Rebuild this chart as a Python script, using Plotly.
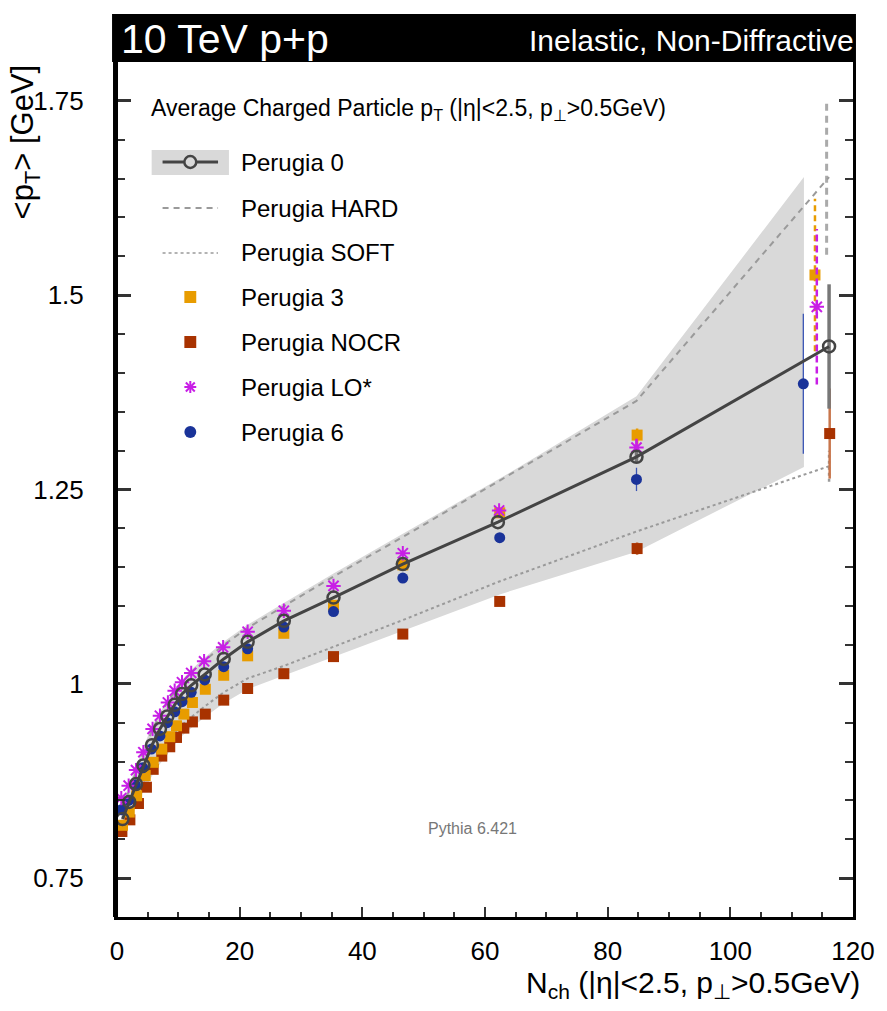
import plotly.graph_objects as go

# ---------------- data ----------------
# Perugia 0 (central tune)
nch_p0 = [0.9, 2.0, 3.1, 4.3, 5.7, 7.0, 8.2, 9.4, 10.6, 12.1, 14.3, 17.4, 21.3, 27.2, 35.3, 46.6, 62.1, 84.7, 116.1]
pt_p0 = [0.826, 0.848, 0.871, 0.895, 0.921, 0.942, 0.958, 0.973, 0.987, 0.998, 1.012, 1.032, 1.054, 1.081, 1.111, 1.154, 1.208, 1.292, 1.434]
err_p0 = [0, 0, 0, 0, 0, 0, 0, 0, 0, 0, 0, 0, 0, 0, 0, 0, 0, 0.008, 0.080]

# Perugia HARD / SOFT
pt_hard = [0.840, 0.864, 0.888, 0.912, 0.940, 0.960, 0.976, 0.990, 1.002, 1.015, 1.030, 1.050, 1.072, 1.100, 1.138, 1.189, 1.260, 1.364, 1.652]
err_hard = [0, 0, 0, 0, 0, 0, 0, 0, 0, 0, 0, 0, 0, 0, 0, 0, 0, 0, 0.100]
pt_soft = [0.815, 0.833, 0.852, 0.872, 0.893, 0.910, 0.924, 0.936, 0.947, 0.957, 0.971, 0.989, 1.007, 1.023, 1.048, 1.082, 1.131, 1.196, 1.280]
err_soft = [0, 0, 0, 0, 0, 0, 0, 0, 0, 0, 0, 0, 0, 0, 0, 0, 0, 0, 0.020]

# Perugia 3
nch_p3 = [0.9, 2.0, 3.2, 4.6, 5.9, 7.3, 8.6, 9.7, 10.9, 12.3, 14.4, 17.4, 21.3, 27.2, 35.3, 46.6, 62.4, 84.8, 113.8]
pt_p3 = [0.818, 0.835, 0.856, 0.882, 0.899, 0.916, 0.932, 0.946, 0.961, 0.976, 0.993, 1.011, 1.036, 1.065, 1.101, 1.153, 1.220, 1.320, 1.526]
err_p3 = [0, 0, 0, 0, 0, 0, 0, 0, 0, 0, 0, 0, 0, 0, 0, 0, 0, 0.012, 0.098]

# Perugia NOCR
nch_nocr = [0.8, 2.1, 3.5, 4.8, 5.9, 7.3, 8.6, 9.7, 10.9, 12.3, 14.4, 17.4, 21.3, 27.2, 35.3, 46.6, 62.4, 84.8, 116.2]
pt_nocr = [0.810, 0.825, 0.846, 0.867, 0.890, 0.907, 0.919, 0.931, 0.943, 0.951, 0.961, 0.979, 0.994, 1.013, 1.035, 1.064, 1.106, 1.174, 1.322]
err_nocr = [0, 0, 0, 0, 0, 0, 0, 0, 0, 0, 0, 0, 0, 0, 0, 0, 0, 0.008, 0.058]

# Perugia LO*
nch_lo = [0.7, 1.9, 3.1, 4.3, 5.8, 7.0, 8.3, 9.4, 10.6, 12.1, 14.2, 17.3, 21.3, 27.2, 35.3, 46.6, 62.3, 84.7, 114.1]
pt_lo = [0.853, 0.869, 0.889, 0.912, 0.942, 0.959, 0.976, 0.991, 1.002, 1.014, 1.029, 1.047, 1.067, 1.094, 1.126, 1.168, 1.223, 1.304, 1.485]
err_lo = [0, 0, 0, 0, 0, 0, 0, 0, 0, 0, 0, 0, 0, 0, 0, 0, 0, 0.012, 0.100]

# Perugia 6
nch_p6 = [0.7, 1.9, 3.0, 4.2, 5.6, 7.0, 8.2, 9.4, 10.6, 12.1, 14.3, 17.4, 21.3, 27.2, 35.3, 46.6, 62.4, 84.7, 111.9]
pt_p6 = [0.838, 0.850, 0.870, 0.892, 0.916, 0.933, 0.950, 0.964, 0.977, 0.989, 1.005, 1.022, 1.045, 1.073, 1.093, 1.136, 1.188, 1.263, 1.386]
err_p6 = [0, 0, 0, 0, 0, 0, 0, 0, 0, 0, 0, 0, 0, 0, 0, 0, 0, 0.015, 0.090]

# Variation envelope around Perugia 0
band_x = [0.7, 1.9, 3.0, 4.2, 5.6, 7.0, 8.2, 9.4, 10.6, 12.1, 14.3, 17.4, 21.3, 27.2, 35.3, 46.6, 62.4, 84.7, 112.0]
band_hi = [0.845, 0.868, 0.892, 0.916, 0.944, 0.963, 0.979, 0.993, 1.005, 1.018, 1.034, 1.054, 1.076, 1.104, 1.142, 1.193, 1.264, 1.370, 1.652]
band_lo = [0.805, 0.820, 0.840, 0.860, 0.880, 0.897, 0.910, 0.922, 0.933, 0.943, 0.957, 0.975, 0.993, 1.011, 1.035, 1.068, 1.115, 1.170, 1.279]

x_ticks = [0, 20, 40, 60, 80, 100, 120]
y_ticks = [0.75, 1.0, 1.25, 1.5, 1.75]
y_ticktext = ["0.75", "1", "1.25", "1.5", "1.75"]

# ---------------- layout constants ----------------
W, H = 887, 1011
ML, MR, MT, MB = 117, 27, 62, 94
PW = W - ML - MR
PH = H - MT - MB
FONT = "Liberation Sans, Arial, Helvetica, sans-serif"

C_P0 = "#444444"
C_GRAY = "#9a9a9a"
C_BAND = "#d9d9d9"
C_P3 = "#e89c00"
C_NOCR = "#a83200"
C_NOCR_ERR = "#c8764c"
C_LO = "#c81ee6"
C_P6 = "#1a3399"


def px(x):
    return (x - ML) / PW


def py(y):
    return (H - MB - y) / PH


def err_segments(xs, ys, es):
    sx, sy = [], []
    for x, y, e in zip(xs, ys, es):
        if e > 0:
            sx += [x, x, None]
            sy += [y - e, y + e, None]
    return sx, sy


fig = go.Figure()

# envelope band
fig.add_trace(go.Scatter(
    x=band_x + band_x[::-1], y=band_hi + band_lo[::-1],
    fill="toself", fillcolor=C_BAND, line=dict(width=0),
    mode="lines", showlegend=False, hoverinfo="skip"))

# SOFT
ex, ey = err_segments(nch_p0, pt_soft, err_soft)
fig.add_trace(go.Scatter(x=ex, y=ey, mode="lines",
                         line=dict(color=C_GRAY, width=2.5, dash="dot"), showlegend=False))
fig.add_trace(go.Scatter(x=nch_p0, y=pt_soft, mode="lines",
                         line=dict(color=C_GRAY, width=2, dash="dot"), showlegend=False))

# HARD (error bar drawn just left of the shared bin position)
ex, ey = err_segments(nch_p0, pt_hard, err_hard)
fig.add_trace(go.Scatter(x=[v - 0.4 if v is not None else None for v in ex], y=ey, mode="lines",
                         line=dict(color="#aaaaaa", width=3, dash="7px,5px"), showlegend=False))
fig.add_trace(go.Scatter(x=nch_p0, y=pt_hard, mode="lines",
                         line=dict(color=C_GRAY, width=2, dash="6px,5px"), showlegend=False))

# NOCR
ex, ey = err_segments(nch_nocr, pt_nocr, err_nocr)
fig.add_trace(go.Scatter(x=ex, y=ey, mode="lines",
                         line=dict(color=C_NOCR_ERR, width=2.5), showlegend=False))
fig.add_trace(go.Scatter(x=nch_nocr, y=pt_nocr, mode="markers",
                         marker=dict(symbol="square", size=11, color=C_NOCR), showlegend=False))

# Perugia 3
ex, ey = err_segments(nch_p3, pt_p3, err_p3)
fig.add_trace(go.Scatter(x=ex, y=ey, mode="lines",
                         line=dict(color=C_P3, width=2.5, dash="6px,4px"), showlegend=False))
fig.add_trace(go.Scatter(x=nch_p3, y=pt_p3, mode="markers",
                         marker=dict(symbol="square", size=11, color=C_P3), showlegend=False))

# Perugia 6
ex, ey = err_segments(nch_p6, pt_p6, err_p6)
fig.add_trace(go.Scatter(x=ex, y=ey, mode="lines",
                         line=dict(color="#3a55b5", width=1.3), showlegend=False))
fig.add_trace(go.Scatter(x=nch_p6, y=pt_p6, mode="markers",
                         marker=dict(symbol="circle", size=11, color=C_P6), showlegend=False))

# Perugia LO*
ex, ey = err_segments(nch_lo, pt_lo, err_lo)
fig.add_trace(go.Scatter(x=ex, y=ey, mode="lines",
                         line=dict(color=C_LO, width=2.5, dash="7px,4px"), showlegend=False))
fig.add_trace(go.Scatter(x=nch_lo, y=pt_lo, mode="markers",
                         marker=dict(symbol="asterisk-open", size=12, color=C_LO,
                                     line=dict(color=C_LO, width=2)),
                         showlegend=False))

# Perugia 0
ex, ey = err_segments(nch_p0, pt_p0, err_p0)
fig.add_trace(go.Scatter(x=ex, y=ey, mode="lines",
                         line=dict(color="#777777", width=3.5), showlegend=False))
fig.add_trace(go.Scatter(x=nch_p0, y=pt_p0, mode="lines+markers",
                         line=dict(color=C_P0, width=3),
                         marker=dict(symbol="circle-open", size=12, color=C_P0,
                                     line=dict(color=C_P0, width=2.5)),
                         showlegend=False))

shapes = []
annotations = []

# title bar
shapes.append(dict(type="rect", xref="paper", yref="paper",
                   x0=px(112), x1=px(863), y0=py(62), y1=py(14),
                   fillcolor="black", line=dict(width=0), layer="above"))
annotations.append(dict(xref="paper", yref="paper", x=px(119), y=py(39),
                        xanchor="left", yanchor="middle", showarrow=False,
                        text="10 TeV p+p", font=dict(family=FONT, size=41, color="white")))
annotations.append(dict(xref="paper", yref="paper", x=px(863), y=py(40),
                        xanchor="right", yanchor="middle", showarrow=False,
                        text="Inelastic, Non-Diffractive", font=dict(family=FONT, size=30, color="white")))

# thick left frame line
shapes.append(dict(type="line", xref="paper", yref="paper", x0=px(115.5), x1=px(115.5),
                   y0=0, y1=1, line=dict(color="black", width=5), layer="above"))

# legend
LEG_TITLE_Y = 110
annotations.append(dict(xref="paper", yref="paper", x=px(149), y=py(LEG_TITLE_Y),
                        xanchor="left", yanchor="middle", showarrow=False,
                        text="Average Charged Particle p<sub>T</sub> (|η|&lt;2.5, p<sub>⊥</sub>&gt;0.5GeV)",
                        font=dict(family=FONT, size=23, color="black")))

rows = [162, 208, 253, 297, 342, 387, 432]
names = ["Perugia 0", "Perugia HARD", "Perugia SOFT", "Perugia 3", "Perugia NOCR", "Perugia LO*", "Perugia 6"]
SX0, SX1, SXC = 163, 219, 191
for yr, name in zip(rows, names):
    annotations.append(dict(xref="paper", yref="paper", x=px(240), y=py(yr),
                            xanchor="left", yanchor="middle", showarrow=False,
                            text=name, font=dict(family=FONT, size=24, color="black")))


def pline(x0, x1, y, color, width, dash="solid"):
    return dict(type="line", xref="paper", yref="paper", x0=px(x0), x1=px(x1),
                y0=py(y), y1=py(y), line=dict(color=color, width=width, dash=dash))


# Perugia 0 swatch
shapes.append(dict(type="rect", xref="paper", yref="paper", x0=px(152), x1=px(230),
                   y0=py(175), y1=py(150), fillcolor=C_BAND, line=dict(width=0)))
shapes.append(pline(SX0, SX1, rows[0], C_P0, 3))
shapes.append(dict(type="circle", xref="paper", yref="paper", x0=px(SXC - 6), x1=px(SXC + 6),
                   y0=py(rows[0] + 6), y1=py(rows[0] - 6), fillcolor=C_BAND,
                   line=dict(color=C_P0, width=2.5)))
# HARD / SOFT swatches
shapes.append(pline(SX0, SX1, rows[1], C_GRAY, 2, "6px,5px"))
shapes.append(pline(SX0, SX1, rows[2], C_GRAY, 1.5, "dot"))
# square swatches
for yr, col in ((rows[3], C_P3), (rows[4], C_NOCR)):
    shapes.append(dict(type="rect", xref="paper", yref="paper", x0=px(SXC - 6), x1=px(SXC + 6),
                       y0=py(yr + 6), y1=py(yr - 6), fillcolor=col, line=dict(width=0)))
# asterisk swatch
yr = rows[5]
for dx, dy in ((0, 6), (6, 0), (4.5, 4.5), (4.5, -4.5)):
    shapes.append(dict(type="line", xref="paper", yref="paper",
                       x0=px(SXC - dx), x1=px(SXC + dx), y0=py(yr - dy), y1=py(yr + dy),
                       line=dict(color=C_LO, width=2)))
# circle swatch
yr = rows[6]
shapes.append(dict(type="circle", xref="paper", yref="paper", x0=px(SXC - 6), x1=px(SXC + 6),
                   y0=py(yr + 6), y1=py(yr - 6), fillcolor=C_P6, line=dict(width=0)))

# generator tag
annotations.append(dict(xref="paper", yref="paper", x=px(476), y=py(828),
                        xanchor="center", yanchor="middle", showarrow=False,
                        text="Pythia 6.421", font=dict(family=FONT, size=16, color="#777777")))

# axis titles
annotations.append(dict(xref="paper", yref="paper", x=px(869), y=py(984),
                        xanchor="right", yanchor="middle", showarrow=False,
                        text="N<sub>ch</sub> (|η|&lt;2.5, p<sub>⊥</sub>&gt;0.5GeV)",
                        font=dict(family=FONT, size=30, color="black")))
annotations.append(dict(xref="paper", yref="paper", x=px(24), y=py(62),
                        xanchor="center", yanchor="top", showarrow=False, textangle=-90,
                        text="&lt;p<sub>T</sub>&gt; [GeV]",
                        font=dict(family=FONT, size=31, color="black")))

fig.update_layout(
    width=W, height=H,
    margin=dict(l=ML, r=MR, t=MT, b=MB, pad=0),
    paper_bgcolor="white", plot_bgcolor="white",
    showlegend=False,
    shapes=shapes, annotations=annotations,
    font=dict(family=FONT, color="black"),
)
fig.update_xaxes(
    range=[0, 120], tickvals=x_ticks, ticks="inside", ticklen=10, tickwidth=2, tickcolor="#333333",
    minor=dict(dtick=5, ticks="inside", ticklen=5, tickwidth=1.5, tickcolor="#333333"),
    showline=True, linecolor="black", linewidth=3, mirror=False,
    showgrid=False, zeroline=False, tickfont=dict(family=FONT, size=26, color="black"),
    ticklabelstandoff=9,
)
fig.update_yaxes(
    range=[0.7, 1.8], tickvals=y_ticks, ticktext=y_ticktext,
    ticks="inside", ticklen=14, tickwidth=2.5, tickcolor="#333333",
    minor=dict(dtick=0.05, tick0=0.75, ticks="inside", ticklen=8, tickwidth=2, tickcolor="#333333"),
    showline=True, linecolor="black", linewidth=3, mirror="ticks",
    showgrid=False, zeroline=False, tickfont=dict(family=FONT, size=26, color="black"),
    ticklabelstandoff=25,
)

fig.write_html("out.html")
